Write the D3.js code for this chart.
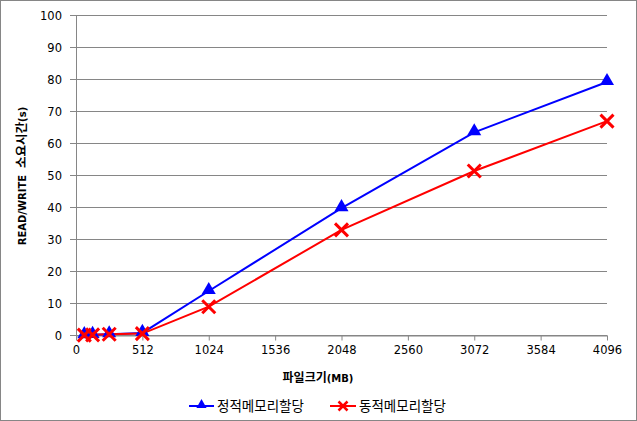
<!DOCTYPE html>
<html><head><meta charset="utf-8">
<script src="https://cdn.jsdelivr.net/npm/d3@7/dist/d3.min.js"></script>
<style>
html,body{margin:0;padding:0;background:#fff;}
svg{display:block;}
text{font-family:"DejaVu Sans",Verdana,sans-serif;}
.kr{font-family:"Noto Sans CJK KR","DejaVu Sans",sans-serif;}
</style></head>
<body>
<svg id="c" width="637" height="421"></svg>
<script>
const fileSizes = [64, 128, 256, 512, 1024, 2048, 3072, 4096];
const staticAlloc = [0.1, 0.2, 0.4, 0.8, 13.9, 39.8, 63.5, 79.2];
const dynamicAlloc = [0.1, 0.2, 0.4, 0.6, 9.0, 33.0, 51.4, 67.0];
const xTicks = [0, 512, 1024, 1536, 2048, 2560, 3072, 3584, 4096];
const yTicks = [0, 10, 20, 30, 40, 50, 60, 70, 80, 90, 100];
const seriesNames = ["정적메모리할당", "동적메모리할당"];

const svg = d3.select("#c");
const W = 637, H = 421;
svg.append("rect").attr("x",0.5).attr("y",0.5).attr("width",W-1).attr("height",H-1)
  .attr("fill","#fff").attr("stroke","#868686");

const x = d3.scaleLinear().domain([0,4096]).range([76,607]);
const y = d3.scaleLinear().domain([0,100]).range([335.5,15.5]);

const grid = svg.append("g");
yTicks.forEach(t=>{
  grid.append("line").attr("x1",70).attr("x2",607).attr("y1",y(t)).attr("y2",y(t))
    .attr("stroke","#868686").attr("stroke-width",1);
});
svg.append("line").attr("x1",76.5).attr("x2",76.5).attr("y1",y(100)).attr("y2",y(0)+0.5).attr("stroke","#868686");

const yAxis = d3.axisLeft(y).tickValues(yTicks).tickSize(0).tickPadding(8).tickFormat(d3.format("d"));
const gy = svg.append("g").attr("transform","translate(70,0)").call(yAxis);
gy.select(".domain").remove();
gy.selectAll("text").attr("font-size","11.5px").attr("fill","#000");

const xAxis = d3.axisBottom(x).tickValues(xTicks).tickSize(5).tickSizeOuter(0).tickPadding(5).tickFormat(d3.format("d"));
const gx = svg.append("g").attr("transform",`translate(0,${y(0)})`).call(xAxis);
gx.select(".domain").attr("stroke","#868686");
gx.selectAll(".tick line").attr("stroke","#868686");
gx.selectAll("text").attr("font-size","11.5px").attr("fill","#000");

const line = d3.line().x(d=>x(d[0])).y(d=>y(d[1]));
const blueData = fileSizes.map((f,i)=>[f, staticAlloc[i]]);
const redData = fileSizes.map((f,i)=>[f, dynamicAlloc[i]]);

const tri = d3.symbol().type(d3.symbolTriangle).size(85);
function drawX(g, cx, cy, s, sw){
  g.append("path").attr("d",`M${cx-s},${cy-s}L${cx+s},${cy+s}M${cx-s},${cy+s}L${cx+s},${cy-s}`)
   .attr("stroke","#ff0000").attr("stroke-width",sw).attr("fill","none");
}

svg.append("path").datum(blueData).attr("d",line).attr("fill","none").attr("stroke","#0000ff").attr("stroke-width",2);
svg.append("path").datum(redData).attr("d",line).attr("fill","none").attr("stroke","#ff0000").attr("stroke-width",2);

blueData.forEach(d=>{
  svg.append("path").attr("d",tri).attr("transform",`translate(${x(d[0])},${y(d[1])-1})`).attr("fill","#0000ff");
});
const gm = svg.append("g");
redData.forEach(d=> drawX(gm, x(d[0]), y(d[1]), 6.5, 3));

const xt = svg.append("text").attr("x",318).attr("y",382).attr("text-anchor","middle").attr("font-size","12px").attr("font-weight","bold");
xt.append("tspan").attr("class","kr").text("파일크기");
xt.append("tspan").attr("font-size","10px").text("(MB)");

const yt = svg.append("text").attr("transform","translate(26,176) rotate(-90)").attr("text-anchor","middle").attr("font-size","11px").attr("font-weight","bold").attr("xml:space","preserve");
yt.append("tspan").attr("font-size","10px").text("READ/WRITE\u00a0\u00a0");
yt.append("tspan").attr("class","kr").attr("font-size","12.5px").text("소요시간");
yt.append("tspan").attr("font-size","10px").text("(s)");

const ly = 406;
svg.append("line").attr("x1",189).attr("x2",214).attr("y1",ly).attr("y2",ly).attr("stroke","#0000ff").attr("stroke-width",2);
svg.append("path").attr("d",d3.symbol().type(d3.symbolTriangle).size(45)).attr("transform",`translate(201.5,${ly-1})`).attr("fill","#0000ff");
svg.append("text").attr("class","kr").attr("x",217).attr("y",ly+5).attr("font-size","13.5px").text(seriesNames[0]);

svg.append("line").attr("x1",330).attr("x2",356).attr("y1",ly).attr("y2",ly).attr("stroke","#ff0000").attr("stroke-width",2);
drawX(svg, 343, ly, 4.5, 2.5);
svg.append("text").attr("class","kr").attr("x",359).attr("y",ly+5).attr("font-size","13.5px").text(seriesNames[1]);
</script>
</body></html>
